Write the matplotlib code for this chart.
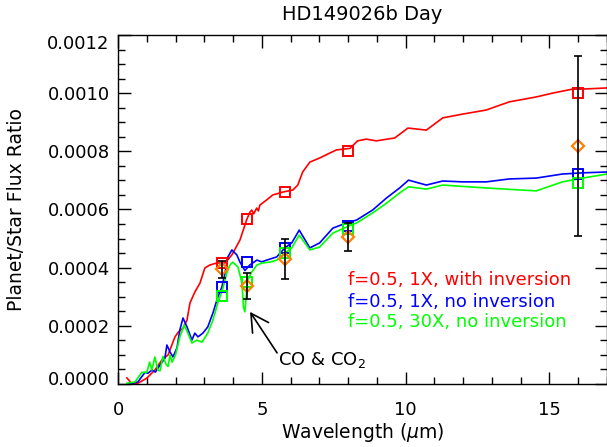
import matplotlib
matplotlib.use('Agg')
import matplotlib.pyplot as plt
from matplotlib.ticker import MultipleLocator, FormatStrFormatter
from matplotlib.transforms import ScaledTranslation

plt.rcParams['font.family'] = 'DejaVu Sans'

# espectros dos modelos (comprimento de onda em micron, razao em unidades de 1e-4)
red_x = [0.31, 0.49, 0.7, 1.0, 1.28, 1.53, 1.74, 1.98, 2.1, 2.26, 2.4, 2.5, 2.67, 2.85, 3.02,
         3.19, 3.43, 3.72, 3.96, 4.24, 4.47, 4.58, 4.65, 4.72, 4.82, 4.88, 4.93, 5.17, 5.38, 5.73,
         6.08, 6.25, 6.42, 6.67, 7.01, 7.36, 7.6, 8.06, 8.33, 8.63, 8.98, 9.62, 10.08, 10.72, 11.29,
         11.98, 12.8, 13.6, 14.54, 15.1, 15.8, 16.15, 17.0]
red_y = [0.21, 0.0, 0.03, 0.2, 0.48, 0.83, 1.0, 1.62, 1.79, 1.92, 2.2, 2.78, 3.16, 3.47, 3.99,
         4.09, 4.16, 4.16, 4.44, 4.95, 5.64, 5.9, 5.98, 5.85, 6.05, 5.95, 6.15, 6.33, 6.5, 6.6,
         6.67, 6.84, 7.29, 7.63, 7.77, 7.94, 8.05, 8.1, 8.36, 8.42, 8.36, 8.46, 8.8, 8.73, 9.15,
         9.28, 9.42, 9.7, 9.87, 10.0, 10.14, 10.14, 10.18]

blue_x = [0.35, 0.5, 0.69, 0.94, 1.04, 1.18, 1.3, 1.46, 1.63, 1.7, 1.81, 1.91, 2.05, 2.15, 2.26,
          2.4, 2.57, 2.67, 2.78, 2.95, 3.12, 3.3, 3.47, 3.61, 3.72, 3.82, 3.96, 4.13, 4.24, 4.41,
          4.58, 4.83, 5.0, 5.17, 5.52, 5.8, 6.04, 6.3, 6.67, 7.01, 7.47, 7.95, 8.3, 8.85, 9.34,
          9.79, 10.1, 10.72, 11.29, 11.98, 12.8, 13.6, 14.54, 15.45, 16.15, 17.0]
blue_y = [0.0, 0.03, 0.07, 0.4, 0.37, 0.48, 0.41, 0.65, 0.89, 1.34, 1.1, 0.93, 1.24, 1.86, 2.27,
          1.96, 1.51, 1.75, 1.62, 1.75, 1.96, 2.44, 2.99, 3.33, 3.81, 4.37, 4.61, 4.44, 4.19, 3.9,
          4.09, 4.26, 4.2, 4.26, 4.37, 4.68, 4.85, 5.29, 4.68, 4.85, 5.36, 5.54, 5.64, 5.98, 6.4,
          6.74, 7.01, 6.84, 6.98, 6.95, 6.95, 7.05, 7.08, 7.22, 7.26, 7.29]

green_x = [0.31, 0.59, 0.83, 1.0, 1.1, 1.18, 1.28, 1.39, 1.46, 1.56, 1.66, 1.74, 1.81, 1.88, 2.0,
           2.15, 2.3, 2.43, 2.57, 2.74, 2.92, 3.12, 3.3, 3.47, 3.65, 3.78, 3.89, 3.99, 4.17, 4.31,
           4.36, 4.41, 4.51, 4.65, 4.83, 5.0, 5.28, 5.52, 5.8, 6.04, 6.3, 6.67, 7.01, 7.47, 7.95,
           8.3, 8.85, 9.34, 9.79, 10.1, 10.72, 11.29, 12.8, 14.54, 15.45, 16.15, 17.0]
green_y = [0.03, 0.07, 0.4, 0.4, 0.75, 0.48, 0.93, 0.48, 0.45, 0.95, 0.7, 0.6, 1.0, 0.75, 1.0,
           1.62, 2.03, 1.75, 1.41, 1.51, 1.44, 1.75, 2.2, 2.78, 3.3, 3.81, 4.09, 4.19, 4.02, 3.47,
           2.65, 2.48, 3.58, 3.85, 4.09, 4.16, 4.19, 4.26, 4.5, 4.68, 5.12, 4.61, 4.71, 5.19, 5.4,
           5.54, 5.88, 6.22, 6.57, 6.78, 6.7, 6.84, 6.74, 6.64, 6.95, 7.08, 7.22]

# valores integrados nas bandas do Spitzer
bandas = [3.6, 4.5, 5.8, 8.0, 16.0]
red_banda = [4.16, 5.67, 6.6, 8.01, 10.01]
blue_banda = [3.33, 4.19, 4.68, 5.43, 7.22]
green_banda = [3.03, 3.51, 4.5, 5.33, 6.91]

# observacoes
obs = [3.94, 3.37, 4.3, 5.05, 8.18]
obs_err = [0.3, 0.45, 0.69, 0.48, 3.1]

legendas = ['f=0.5, 1X, with inversion', 'f=0.5, 1X, no inversion', 'f=0.5, 30X, no inversion']
cores = ['#ff0000', '#0000ff', '#00ff00']

esc = 1e-4


def escala(v):
    return [a * esc for a in v]


fig = plt.figure(figsize=(6.07, 4.47), dpi=100)
ax = fig.add_axes([118 / 607, 63 / 447, 489 / 607, 349 / 447])

# curvas dos modelos
ax.plot(red_x, escala(red_y), color=cores[0], lw=1.2)
ax.plot(blue_x, escala(blue_y), color=cores[1], lw=1.2)
ax.plot(green_x, escala(green_y), color=cores[2], lw=1.2)

# quadrados nas bandas
for vals, cor in zip([red_banda, blue_banda, green_banda], cores):
    ax.plot(bandas, escala(vals), ls='none', marker='s', ms=6.5, mfc='none',
            mec=cor, mew=1.4)

# dados observados
ax.plot(bandas, escala(obs), ls='none', marker='D', ms=6.3, mfc='none',
        mec='#ff8000', mew=1.6)
ax.errorbar(bandas, escala(obs), yerr=escala(obs_err), fmt='none', ecolor='black',
            elinewidth=1.2, capsize=3, capthick=1.2)

# textos da legenda
for i, (txt, cor) in enumerate(zip(legendas, cores)):
    ax.text(8.0, [3.58, 2.82, 2.13][i] * esc, txt, color=cor, fontsize=13,
            ha='left', va='center')

# seta apontando a banda de CO
ax.annotate('', xy=(4.59, 2.48 * esc), xytext=(5.53, 1.07 * esc),
            arrowprops=dict(arrowstyle='->,head_length=1.0,head_width=0.55',
                            color='black', lw=1.2, mutation_scale=12.5,
                            shrinkA=0, shrinkB=0))
ax.text(5.56, 0.83 * esc, 'CO & CO$_2$', fontsize=13, ha='left', va='center')

ax.set_xlim(0, 17)
ax.set_ylim(0, 0.0012)
ax.xaxis.set_major_locator(MultipleLocator(5))
ax.xaxis.set_minor_locator(MultipleLocator(1))
ax.yaxis.set_major_locator(MultipleLocator(0.0002))
ax.yaxis.set_minor_locator(MultipleLocator(0.00005))
ax.yaxis.set_major_formatter(FormatStrFormatter('%.4f'))

ax.tick_params(which='both', direction='in', top=True, right=True, width=1.0)
ax.tick_params(which='major', length=9, labelsize=13)
ax.tick_params(which='minor', length=5)
ax.tick_params(axis='x', which='major', pad=12)
ax.tick_params(axis='y', which='major', pad=6)
for s in ax.spines.values():
    s.set_linewidth(1.0)

# os rotulos das pontas do eixo y ficam um pouco para dentro, como no original
valores_y = ax.get_yticks()
ticks_y = ax.yaxis.get_major_ticks(len(valores_y))
for v, t in zip(valores_y, ticks_y):
    if abs(v - 0.0012) < 1e-9:
        t.label1.set_transform(t.label1.get_transform() + ScaledTranslation(0, -7 / 100, fig.dpi_scale_trans))
    elif abs(v) < 1e-9:
        t.label1.set_transform(t.label1.get_transform() + ScaledTranslation(0, 6 / 100, fig.dpi_scale_trans))

fig.text(0.597, 1 - 14 / 447, 'HD149026b Day', fontsize=14, ha='center', va='center')
fig.text(0.597, 1 - 432 / 447, r'Wavelength ($\mu$m)', fontsize=13.5, ha='center', va='center')
fig.text(17 / 607, 0.531, 'Planet/Star Flux Ratio', fontsize=13.5, rotation=90,
         ha='center', va='center')

fig.savefig('out.png', dpi=100)
plt.close()
